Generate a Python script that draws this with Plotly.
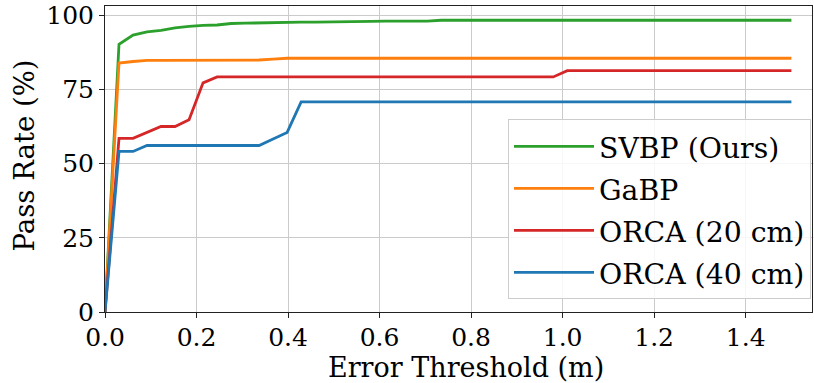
import numpy as np
import plotly.graph_objects as go

# Error thresholds (m)
thresholds = [round(i * 1.5 / 49, 4) for i in range(50)]

svbp = [0.0, 90.2, 93.3, 94.4, 94.9, 95.7, 96.2, 96.6, 96.7, 97.2,
        97.3, 97.4, 97.7, 97.7, 97.7, 97.7, 97.7, 97.7, 97.7, 97.9,
        98.0, 98.0, 98.0, 98.0, 98.3, 98.3, 98.3, 98.3, 98.3, 98.3,
        98.3, 98.3, 98.3, 98.3, 98.3, 98.3, 98.3, 98.3, 98.3, 98.3,
        98.3, 98.3, 98.3, 98.3, 98.3, 98.3, 98.3, 98.3, 98.3, 98.3]
gabp = [0.0, 83.9, 84.4, 84.8, 84.8, 84.8, 84.8, 84.8, 84.8, 84.8,
        84.8, 84.9, 85.2, 85.5, 85.5, 85.5, 85.5, 85.5, 85.5, 85.5,
        85.5, 85.5, 85.5, 85.5, 85.5, 85.5, 85.5, 85.5, 85.5, 85.5,
        85.5, 85.5, 85.5, 85.5, 85.5, 85.5, 85.5, 85.5, 85.5, 85.5,
        85.5, 85.5, 85.5, 85.5, 85.5, 85.5, 85.5, 85.5, 85.5, 85.5]
orca20 = [0.0, 58.5, 58.5, 60.5, 62.5, 62.5, 64.8, 77.2, 79.2, 79.2,
          79.2, 79.2, 79.2, 79.2, 79.2, 79.2, 79.2, 79.2, 79.2, 79.2,
          79.2, 79.2, 79.2, 79.2, 79.2, 79.2, 79.2, 79.2, 79.2, 79.2,
          79.2, 79.2, 79.2, 81.3, 81.3, 81.3, 81.3, 81.3, 81.3, 81.3,
          81.3, 81.3, 81.3, 81.3, 81.3, 81.3, 81.3, 81.3, 81.3, 81.3]
orca40 = [0.0, 54.1, 54.1, 56.1, 56.1, 56.1, 56.1, 56.1, 56.1, 56.1,
          56.1, 56.1, 58.3, 60.5, 70.8, 70.8, 70.8, 70.8, 70.8, 70.8,
          70.8, 70.8, 70.8, 70.8, 70.8, 70.8, 70.8, 70.8, 70.8, 70.8,
          70.8, 70.8, 70.8, 70.8, 70.8, 70.8, 70.8, 70.8, 70.8, 70.8,
          70.8, 70.8, 70.8, 70.8, 70.8, 70.8, 70.8, 70.8, 70.8, 70.8]

series_names = ["SVBP (Ours)", "GaBP", "ORCA (20 cm)", "ORCA (40 cm)"]
series_values = [svbp, gabp, orca20, orca40]
series_colors = ["#2ca02c", "#ff7f0e", "#d62728", "#1f77b4"]

x_title = "Error Threshold (m)"
y_title = "Pass Rate (%)"

FONT = "DejaVu Serif"

fig = go.Figure()
for name, vals, col in zip(series_names, series_values, series_colors):
    fig.add_trace(go.Scatter(
        x=thresholds, y=vals, mode="lines",
        name='<span style="font-size:28.3px">' + name + '</span>',
        line=dict(color=col, width=2.8),
    ))

axis_common = dict(
    showline=True, mirror=True, linecolor="#222222", linewidth=1,
    showgrid=True, gridcolor="#cbcbcb", gridwidth=1,
    ticks="outside", ticklen=5, tickcolor="#222222", tickwidth=1,
    tickfont=dict(family=FONT, size=25, color="black"),
    zeroline=False, ticklabeloverflow="allow",
)

fig.update_layout(
    width=814, height=383,
    margin=dict(l=105, r=1, t=3, b=71),
    paper_bgcolor="white", plot_bgcolor="white",
    font=dict(family=FONT, color="black"),
    xaxis=dict(range=[0, 1.545], dtick=0.2, tick0=0, tickformat=".1f",
               ticklabelstandoff=-2, **axis_common),
    yaxis=dict(range=[0, 103.1], dtick=25, tick0=0,
               **axis_common),
    legend=dict(
        x=0.9986, y=0.041, xanchor="right", yanchor="bottom",
        bgcolor="rgba(255,255,255,0.85)", bordercolor="#cccccc", borderwidth=1,
        font=dict(family=FONT, size=30, color="black"),
        itemwidth=80,
    ),
    showlegend=True,
    annotations=[
        dict(text=x_title, xref="paper", yref="paper", x=0.51, y=-0.181,
             xanchor="center", yanchor="middle", showarrow=False,
             font=dict(family=FONT, size=27, color="black")),
        dict(text=y_title, xref="paper", yref="paper", x=-0.114, y=0.513,
             xanchor="center", yanchor="middle", showarrow=False, textangle=-90,
             font=dict(family=FONT, size=27.5, color="black")),
    ],
)

fig.write_html("out.html")
